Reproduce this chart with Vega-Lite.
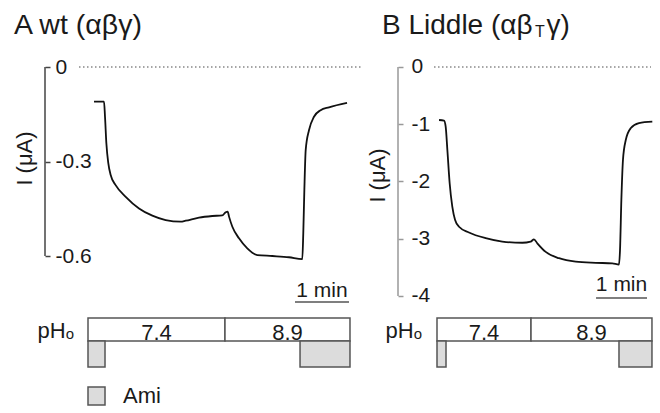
{
  "$schema": "https://vega.github.io/schema/vega-lite/v6.json",
  "background": "white",
  "padding": {"left": 13, "top": 10, "right": 0, "bottom": 0},
  "config": {"view": {"stroke": null}, "font": "Liberation Sans"},
  "spacing": 3,
  "datasets": {
    "traceA": [
      {"t": 6.7, "I": -0.110}, {"t": 17.8, "I": -0.110}, {"t": 18.9, "I": -0.158}, {"t": 20.4, "I": -0.242},
      {"t": 22.6, "I": -0.306}, {"t": 25.2, "I": -0.343}, {"t": 30.7, "I": -0.375}, {"t": 41.9, "I": -0.412},
      {"t": 56.7, "I": -0.449}, {"t": 71.5, "I": -0.472}, {"t": 86.3, "I": -0.486}, {"t": 103, "I": -0.491},
      {"t": 108.5, "I": -0.488}, {"t": 123.3, "I": -0.478}, {"t": 138.1, "I": -0.473}, {"t": 149.2, "I": -0.471},
      {"t": 153, "I": -0.461}, {"t": 155.2, "I": -0.459}, {"t": 156.7, "I": -0.475}, {"t": 160.4, "I": -0.507},
      {"t": 167.8, "I": -0.544}, {"t": 177, "I": -0.576}, {"t": 188.1, "I": -0.597}, {"t": 204.8, "I": -0.600},
      {"t": 223.3, "I": -0.604}, {"t": 238.1, "I": -0.610}, {"t": 239.2, "I": -0.528}, {"t": 240.4, "I": -0.390},
      {"t": 241.9, "I": -0.263}, {"t": 245.6, "I": -0.200}, {"t": 251.1, "I": -0.158}, {"t": 258.5, "I": -0.137},
      {"t": 267.8, "I": -0.128}, {"t": 287.8, "I": -0.114}
    ],
    "traceB": [
      {"t": 2.4, "I": -0.926}, {"t": 8.2, "I": -0.937}, {"t": 10.2, "I": -1.04}, {"t": 12.2, "I": -1.45},
      {"t": 14.9, "I": -2.03}, {"t": 18.0, "I": -2.44}, {"t": 21.2, "I": -2.67}, {"t": 25.9, "I": -2.79},
      {"t": 37.6, "I": -2.89}, {"t": 57.3, "I": -2.99}, {"t": 76.8, "I": -3.05}, {"t": 100.4, "I": -3.07},
      {"t": 110.2, "I": -3.05}, {"t": 114.1, "I": -3.01}, {"t": 118, "I": -3.08}, {"t": 127.9, "I": -3.23},
      {"t": 143.5, "I": -3.34}, {"t": 163.2, "I": -3.40}, {"t": 186.7, "I": -3.42}, {"t": 206.3, "I": -3.43},
      {"t": 214.1, "I": -3.45}, {"t": 215.3, "I": -3.20}, {"t": 216.9, "I": -2.32}, {"t": 218.8, "I": -1.62},
      {"t": 222, "I": -1.28}, {"t": 227.8, "I": -1.07}, {"t": 237.6, "I": -0.98}, {"t": 253.3, "I": -0.955}
    ],
    "phA": [{"t0": 0, "t1": 152.2, "pH": "7.4"}, {"t0": 152.2, "t1": 291.1, "pH": "8.9"}],
    "amiA": [{"t0": 0, "t1": 18.9, "drug": "Ami"}, {"t0": 235.6, "t1": 291.1, "drug": "Ami"}],
    "phB": [{"t0": 0, "t1": 110.6, "pH": "7.4"}, {"t0": 110.6, "t1": 252.9, "pH": "8.9"}],
    "amiB": [{"t0": 0, "t1": 10.6, "drug": "Ami"}, {"t0": 214.1, "t1": 252.9, "drug": "Ami"}],
    "barA": [{"t0": 230, "t1": 290, "label": "1 min"}],
    "barB": [{"t0": 187.1, "t1": 247.1, "label": "1 min"}]
  },
  "hconcat": [
    {
      "width": 318,
      "height": 390,
      "title": {"text": "A wt (αβγ)", "anchor": "start", "frame": "group", "dx": -31, "offset": -42, "baseline": "alphabetic", "fontSize": 28.5, "fontWeight": "normal", "font": "Liberation Sans", "color": "#1a1a1a"},
      "layer": [
        {
          "data": {"name": "traceA"},
          "mark": {"type": "line", "color": "#111111", "strokeWidth": 1.8, "interpolate": "monotone"},
          "encoding": {
            "x": {"field": "t", "type": "quantitative", "scale": {"domain": [-47.78, 305.56], "nice": false, "zero": false}, "axis": null},
            "y": {"field": "I", "type": "quantitative", "scale": {"domain": [-1.08889, 0.14921], "nice": false, "zero": false},
              "axis": {"values": [0, -0.3, -0.6], "domain": false, "grid": false, "ticks": true, "tickSize": -5, "tickWidth": 1.5, "tickColor": "#444444",
                "labelAlign": "left", "labelBaseline": "middle", "labelPadding": -5, "labelFontSize": 21, "labelColor": "#1a1a1a", "labelFont": "Liberation Sans",
                "labelExpr": "datum.value == 0 ? '0' : '-' + format(-datum.value, '.1f')",
                "title": "I (μA)", "titleFontSize": 22, "titleFontWeight": "normal", "titleColor": "#1a1a1a", "titleFont": "Liberation Sans",
                "titleX": -14, "titleY": 138, "titleBaseline": "alphabetic", "titleAlign": "center", "titleAngle": -90}}
          }
        },
        {
          "data": {"values": [{"level": 0}]},
          "mark": {"type": "rule", "color": "#888888", "strokeWidth": 1.5, "strokeDash": [1.5, 2.5]},
          "encoding": {
            "x": {"datum": -10, "type": "quantitative", "axis": null},
            "x2": {"datum": 304.4},
            "y": {"field": "level", "type": "quantitative", "scale": {"domain": [-1.08889, 0.14921], "nice": false, "zero": false}, "axis": null}
          }
        },
        {
          "data": {"values": [{"level": 0}]},
          "mark": {"type": "rule", "color": "#444444", "strokeWidth": 1.5},
          "encoding": {
            "x": {"datum": -47.78, "type": "quantitative", "axis": null},
            "y": {"datum": 0, "type": "quantitative", "scale": {"domain": [-1.08889, 0.14921], "nice": false, "zero": false}, "axis": null},
            "y2": {"datum": -0.6}
          }
        },
        {
          "data": {"name": "barA"},
          "mark": {"type": "rule", "color": "#555555", "strokeWidth": 1.5},
          "encoding": {
            "x": {"field": "t0", "type": "quantitative", "axis": null},
            "x2": {"field": "t1"},
            "y": {"datum": -0.746, "type": "quantitative", "scale": {"domain": [-1.08889, 0.14921], "nice": false, "zero": false}, "axis": null}
          }
        },
        {
          "data": {"name": "barA"},
          "transform": [{"fold": ["t0", "t1"], "as": ["edge", "tt"]}],
          "mark": {"type": "text", "align": "center", "baseline": "alphabetic", "dy": -5, "fontSize": 21, "color": "#1a1a1a", "font": "Liberation Sans"},
          "encoding": {
            "x": {"aggregate": "mean", "field": "tt", "type": "quantitative", "axis": null},
            "y": {"datum": -0.746, "type": "quantitative", "scale": {"domain": [-1.08889, 0.14921], "nice": false, "zero": false}, "axis": null},
            "text": {"field": "label"}
          }
        },
        {
          "data": {"name": "phA"},
          "mark": {"type": "rect", "fill": "white", "stroke": "#555555", "strokeWidth": 1.5},
          "encoding": {
            "x": {"field": "t0", "type": "quantitative", "axis": null},
            "x2": {"field": "t1"},
            "y": {"datum": 0, "type": "quantitative", "scale": {"domain": [-12.9565, 4.0], "nice": false, "zero": false, "reverse": true}, "axis": null},
            "y2": {"datum": 1}
          }
        },
        {
          "data": {"name": "amiA"},
          "mark": {"type": "rect", "fill": "#dcdcdc", "stroke": "#555555", "strokeWidth": 1.5},
          "encoding": {
            "x": {"field": "t0", "type": "quantitative", "axis": null},
            "x2": {"field": "t1"},
            "y": {"datum": 1, "type": "quantitative", "scale": {"domain": [-12.9565, 4.0], "nice": false, "zero": false, "reverse": true}, "axis": null},
            "y2": {"datum": 2.13}
          }
        },
        {
          "data": {"name": "phA"},
          "transform": [{"fold": ["t0", "t1"], "as": ["edge", "tt"]}],
          "mark": {"type": "text", "align": "center", "baseline": "alphabetic", "fontSize": 22, "color": "#1a1a1a", "font": "Liberation Sans"},
          "encoding": {
            "x": {"aggregate": "mean", "field": "tt", "type": "quantitative", "axis": null},
            "y": {"datum": 0.95, "type": "quantitative", "scale": {"domain": [-12.9565, 4.0], "nice": false, "zero": false, "reverse": true}, "axis": null},
            "text": {"field": "pH"}
          }
        },
        {
          "data": {"values": [{"label": "pHₒ"}]},
          "mark": {"type": "text", "align": "right", "baseline": "alphabetic", "dx": -14, "fontSize": 22, "color": "#1a1a1a", "font": "Liberation Sans"},
          "encoding": {
            "x": {"datum": 0, "type": "quantitative", "axis": null},
            "y": {"datum": 0.87, "type": "quantitative", "scale": {"domain": [-12.9565, 4.0], "nice": false, "zero": false, "reverse": true}, "axis": null},
            "text": {"field": "label"}
          }
        },
        {
          "data": {"values": [{"drug": "Ami"}]},
          "mark": {"type": "rect", "fill": "#dcdcdc", "stroke": "#555555", "strokeWidth": 1.5},
          "encoding": {
            "x": {"datum": 0, "type": "quantitative", "axis": null},
            "x2": {"datum": 18.9},
            "y": {"datum": 3.0, "type": "quantitative", "scale": {"domain": [-12.9565, 4.0], "nice": false, "zero": false, "reverse": true}, "axis": null},
            "y2": {"datum": 3.78}
          }
        },
        {
          "data": {"values": [{"drug": "Ami"}]},
          "mark": {"type": "text", "align": "left", "baseline": "middle", "fontSize": 22, "color": "#1a1a1a", "font": "Liberation Sans"},
          "encoding": {
            "x": {"datum": 39, "type": "quantitative", "axis": null},
            "y": {"datum": 3.39, "type": "quantitative", "scale": {"domain": [-12.9565, 4.0], "nice": false, "zero": false, "reverse": true}, "axis": null},
            "text": {"field": "drug"}
          }
        }
      ],
      "resolve": {"scale": {"y": "independent"}, "axis": {"y": "independent"}}
    },
    {
      "width": 256,
      "height": 390,
      "title": {"text": "B Liddle (αβ\u2002γ)", "anchor": "start", "frame": "group", "dx": -16, "offset": -42, "baseline": "alphabetic", "fontSize": 28, "fontWeight": "normal", "font": "Liberation Sans", "color": "#1a1a1a"},
      "layer": [
        {
          "data": {"name": "traceB"},
          "mark": {"type": "line", "color": "#111111", "strokeWidth": 1.8, "interpolate": "monotone"},
          "encoding": {
            "x": {"field": "t", "type": "quantitative", "scale": {"domain": [-45.88, 255.29], "nice": false, "zero": false}, "axis": null},
            "y": {"field": "I", "type": "quantitative", "scale": {"domain": [-5.99127, 0.82096], "nice": false, "zero": false},
              "axis": {"values": [0, -1, -2, -3, -4], "domain": false, "grid": false, "ticks": true, "tickSize": -5, "tickWidth": 1.5, "tickColor": "#999999",
                "labelAlign": "left", "labelBaseline": "middle", "labelPadding": -8, "labelFontSize": 21, "labelColor": "#1a1a1a", "labelFont": "Liberation Sans",
                "labelExpr": "datum.value == 0 ? '0' : '-' + format(-datum.value, 'd')",
                "title": "I (μA)", "titleFontSize": 22, "titleFontWeight": "normal", "titleColor": "#1a1a1a", "titleFont": "Liberation Sans",
                "titleX": -14, "titleY": 155, "titleBaseline": "alphabetic", "titleAlign": "center", "titleAngle": -90}}
          }
        },
        {
          "data": {"values": [{"level": 0}]},
          "mark": {"type": "rule", "color": "#888888", "strokeWidth": 1.5, "strokeDash": [1.5, 2.5]},
          "encoding": {
            "x": {"datum": -3.5, "type": "quantitative", "axis": null},
            "x2": {"datum": 251.8},
            "y": {"field": "level", "type": "quantitative", "scale": {"domain": [-5.99127, 0.82096], "nice": false, "zero": false}, "axis": null}
          }
        },
        {
          "data": {"values": [{"level": 0}]},
          "mark": {"type": "rule", "color": "#999999", "strokeWidth": 1.5},
          "encoding": {
            "x": {"datum": -45.88, "type": "quantitative", "axis": null},
            "y": {"datum": 0, "type": "quantitative", "scale": {"domain": [-5.99127, 0.82096], "nice": false, "zero": false}, "axis": null},
            "y2": {"datum": -4}
          }
        },
        {
          "data": {"name": "barB"},
          "mark": {"type": "rule", "color": "#555555", "strokeWidth": 1.5},
          "encoding": {
            "x": {"field": "t0", "type": "quantitative", "axis": null},
            "x2": {"field": "t1"},
            "y": {"datum": -4.035, "type": "quantitative", "scale": {"domain": [-5.99127, 0.82096], "nice": false, "zero": false}, "axis": null}
          }
        },
        {
          "data": {"name": "barB"},
          "transform": [{"fold": ["t0", "t1"], "as": ["edge", "tt"]}],
          "mark": {"type": "text", "align": "center", "baseline": "alphabetic", "dy": -7, "fontSize": 21, "color": "#1a1a1a", "font": "Liberation Sans"},
          "encoding": {
            "x": {"aggregate": "mean", "field": "tt", "type": "quantitative", "axis": null},
            "y": {"datum": -4.035, "type": "quantitative", "scale": {"domain": [-5.99127, 0.82096], "nice": false, "zero": false}, "axis": null},
            "text": {"field": "label"}
          }
        },
        {
          "data": {"values": [{"sub": "T"}]},
          "mark": {"type": "text", "align": "center", "baseline": "alphabetic", "fontSize": 16, "color": "#1a1a1a", "font": "Liberation Sans"},
          "encoding": {
            "x": {"datum": 121, "type": "quantitative", "axis": null},
            "y": {"datum": 0.524, "type": "quantitative", "scale": {"domain": [-5.99127, 0.82096], "nice": false, "zero": false}, "axis": null},
            "text": {"field": "sub"}
          }
        },
        {
          "data": {"name": "phB"},
          "mark": {"type": "rect", "fill": "white", "stroke": "#555555", "strokeWidth": 1.5},
          "encoding": {
            "x": {"field": "t0", "type": "quantitative", "axis": null},
            "x2": {"field": "t1"},
            "y": {"datum": 0, "type": "quantitative", "scale": {"domain": [-12.9565, 4.0], "nice": false, "zero": false, "reverse": true}, "axis": null},
            "y2": {"datum": 1}
          }
        },
        {
          "data": {"name": "amiB"},
          "mark": {"type": "rect", "fill": "#dcdcdc", "stroke": "#555555", "strokeWidth": 1.5},
          "encoding": {
            "x": {"field": "t0", "type": "quantitative", "axis": null},
            "x2": {"field": "t1"},
            "y": {"datum": 1, "type": "quantitative", "scale": {"domain": [-12.9565, 4.0], "nice": false, "zero": false, "reverse": true}, "axis": null},
            "y2": {"datum": 2.13}
          }
        },
        {
          "data": {"name": "phB"},
          "transform": [{"fold": ["t0", "t1"], "as": ["edge", "tt"]}],
          "mark": {"type": "text", "align": "center", "baseline": "alphabetic", "fontSize": 22, "color": "#1a1a1a", "font": "Liberation Sans"},
          "encoding": {
            "x": {"aggregate": "mean", "field": "tt", "type": "quantitative", "axis": null},
            "y": {"datum": 0.95, "type": "quantitative", "scale": {"domain": [-12.9565, 4.0], "nice": false, "zero": false, "reverse": true}, "axis": null},
            "text": {"field": "pH"}
          }
        },
        {
          "data": {"values": [{"label": "pHₒ"}]},
          "mark": {"type": "text", "align": "right", "baseline": "alphabetic", "dx": -15, "fontSize": 22, "color": "#1a1a1a", "font": "Liberation Sans"},
          "encoding": {
            "x": {"datum": 0, "type": "quantitative", "axis": null},
            "y": {"datum": 0.87, "type": "quantitative", "scale": {"domain": [-12.9565, 4.0], "nice": false, "zero": false, "reverse": true}, "axis": null},
            "text": {"field": "label"}
          }
        }
      ],
      "resolve": {"scale": {"y": "independent"}, "axis": {"y": "independent"}}
    }
  ]
}
